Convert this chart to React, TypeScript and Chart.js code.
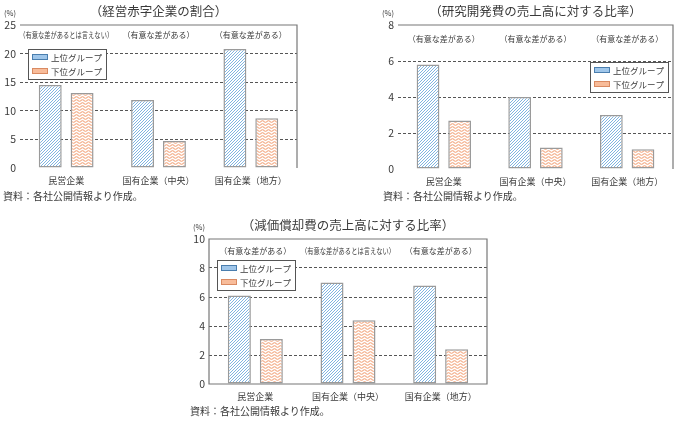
import React, { useEffect, useRef } from 'react';
import Chart from 'chart.js/auto';

const categories = ['民営企業', '国有企業（中央）', '国有企業（地方）'];
const seriesNames = ['上位グループ', '下位グループ'];
const sourceNote = '資料：各社公開情報より作成。';

// 経営赤字企業の割合
const deficitTitle = '（経営赤字企業の割合）';
const deficitUpper = [14.5, 11.9, 20.8];
const deficitLower = [13.1, 4.7, 8.7];
const deficitNotes = ['（有意な差があるとは言えない）', '（有意な差がある）', '（有意な差がある）'];
const deficitTicks = [0, 5, 10, 15, 20, 25];

// 研究開発費の売上高に対する比率
const rdTitle = '（研究開発費の売上高に対する比率）';
const rdUpper = [5.8, 4.0, 3.0];
const rdLower = [2.7, 1.2, 1.1];
const rdNotes = ['（有意な差がある）', '（有意な差がある）', '（有意な差がある）'];
const rdTicks = [0, 2, 4, 6, 8];

// 減価償却費の売上高に対する比率
const depTitle = '（減価償却費の売上高に対する比率）';
const depUpper = [6.1, 7.0, 6.8];
const depLower = [3.1, 4.4, 2.4];
const depNotes = ['（有意な差がある）', '（有意な差があるとは言えない）', '（有意な差がある）'];
const depTicks = [0, 2, 4, 6, 8, 10];

const FONT = '"Noto Sans CJK JP", "Noto Sans", sans-serif';
const TEXT = '#3a3a3a';

function makeHatch() {
    const c = document.createElement('canvas');
    c.width = 3;
    c.height = 3;
    const g = c.getContext('2d')!;
    g.fillStyle = '#fff';
    g.fillRect(0, 0, 3, 3);
    g.strokeStyle = '#80b4e0';
    g.lineWidth = 1;
    g.beginPath();
    g.moveTo(-1, 4); g.lineTo(4, -1);
    g.moveTo(-1, 1); g.lineTo(1, -1);
    g.moveTo(2, 4); g.lineTo(4, 2);
    g.stroke();
    return g.createPattern(c, 'repeat')!;
}

function makeWave() {
    const c = document.createElement('canvas');
    c.width = 6;
    c.height = 3;
    const g = c.getContext('2d')!;
    g.fillStyle = '#fff';
    g.fillRect(0, 0, 6, 3);
    g.strokeStyle = '#f3aa84';
    g.lineWidth = 1.1;
    g.beginPath();
    for (let x = -0.5; x <= 6.5; x += 0.5) {
        const y = 1.5 + 0.8 * Math.sin((x / 6) * Math.PI * 2);
        if (x === -0.5) g.moveTo(x, y);
        else g.lineTo(x, y);
    }
    g.stroke();
    return g.createPattern(c, 'repeat')!;
}

type Area = { l: number; t: number; r: number; b: number };

type PanelProps = {
    left: number;
    top: number;
    width: number;
    height: number;
    area: Area;
    title: string;
    notes: string[];
    upper: number[];
    lower: number[];
    ticks: number[];
    noteOffset: number;
    legendX: number;
    legendY: number;
    legendRight?: boolean;
    fullBox?: boolean;
};

const BarPanel = (p: PanelProps) => {
    const chartRef = useRef<HTMLCanvasElement>(null);

    useEffect(() => {
        const max = p.ticks[p.ticks.length - 1];

        const decor = {
            id: 'decor',
            afterDraw(chart: any) {
                const { ctx, chartArea } = chart;
                const { left: l, top: t, right: r, bottom: b } = chartArea;
                ctx.save();

                // title
                ctx.fillStyle = TEXT;
                ctx.textAlign = 'center';
                ctx.textBaseline = 'middle';
                ctx.font = `12.5px ${FONT}`;
                ctx.fillText(p.title, (l + r) / 2, t - 14);

                // unit
                ctx.textAlign = 'right';
                ctx.font = `7.5px ${FONT}`;
                ctx.fillText('(%)', l - 4, t - 12);

                // significance notes
                ctx.textAlign = 'center';
                ctx.font = `8px ${FONT}`;
                const xs = chart.scales.x;
                p.notes.forEach((n, i) => {
                    ctx.fillText(n, xs.getPixelForValue(i), t + p.noteOffset, 94);
                });

                // frame
                ctx.strokeStyle = '#777';
                ctx.lineWidth = 1.2;
                ctx.beginPath();
                if (p.fullBox) {
                    ctx.rect(l, t, r - l, b - t);
                } else {
                    ctx.moveTo(l, t);
                    ctx.lineTo(r, t);
                    ctx.lineTo(r, b);
                }
                ctx.stroke();

                // legend
                const w = 78;
                const h = 30;
                const bx = p.legendRight ? r - p.legendX - w : l + p.legendX;
                const by = t + p.legendY;
                ctx.fillStyle = '#fff';
                ctx.fillRect(bx, by, w, h);
                ctx.strokeStyle = '#555';
                ctx.lineWidth = 1;
                ctx.strokeRect(bx + 0.5, by + 0.5, w, h);
                const swatches = [
                    { fill: '#9fc6ea', line: '#4a7eae' },
                    { fill: '#f8bc9a', line: '#d98a62' },
                ];
                chart.data.datasets.forEach((ds: any, i: number) => {
                    const ry = by + 8 + i * 14;
                    ctx.fillStyle = swatches[i].fill;
                    ctx.fillRect(bx + 4, ry - 3, 16, 6);
                    ctx.strokeStyle = swatches[i].line;
                    ctx.strokeRect(bx + 4.5, ry - 2.5, 15, 5);
                    ctx.fillStyle = TEXT;
                    ctx.textAlign = 'left';
                    ctx.font = `8.5px ${FONT}`;
                    ctx.fillText(ds.label, bx + 23, ry + 0.5);
                });

                ctx.restore();
            },
        };

        const chartInstance = new Chart(chartRef.current!, {
            type: 'bar',
            data: {
                labels: categories,
                datasets: [
                    {
                        label: seriesNames[0],
                        data: p.upper,
                        backgroundColor: makeHatch(),
                        borderColor: '#9a9a9a',
                        borderWidth: 1.5,
                        borderSkipped: false,
                        categoryPercentage: 0.69,
                        barPercentage: 0.72,
                    },
                    {
                        label: seriesNames[1],
                        data: p.lower,
                        backgroundColor: makeWave(),
                        borderColor: '#9a9a9a',
                        borderWidth: 1.5,
                        borderSkipped: false,
                        categoryPercentage: 0.69,
                        barPercentage: 0.72,
                    },
                ],
            },
            options: {
                responsive: false,
                animation: false,
                layout: {
                    padding: { top: p.area.t, right: p.width - p.area.r, left: 0, bottom: 0 },
                },
                plugins: {
                    legend: { display: false },
                    tooltip: { enabled: false },
                },
                scales: {
                    x: {
                        grid: { display: false, drawTicks: false },
                        border: { display: false },
                        ticks: {
                            color: TEXT,
                            font: { family: FONT, size: 9 },
                            padding: 7,
                            maxRotation: 0,
                            autoSkip: false,
                        },
                        afterFit: (s: any) => {
                            s.height = p.height - p.area.b;
                        },
                    },
                    y: {
                        min: 0,
                        max: max,
                        afterBuildTicks: (s: any) => {
                            s.ticks = p.ticks.map((v) => ({ value: v }));
                        },
                        grid: {
                            drawTicks: false,
                            lineWidth: 1,
                            color: (c: any) =>
                                c.tick && (c.tick.value === 0 || c.tick.value === max)
                                    ? 'rgba(0,0,0,0)'
                                    : '#555',
                        },
                        border: { display: false, dash: [3, 2] },
                        ticks: {
                            color: TEXT,
                            font: { family: FONT, size: 10.5 },
                            padding: 4,
                        },
                        afterFit: (s: any) => {
                            s.width = p.area.l;
                        },
                    },
                },
            },
            plugins: [decor],
        });

        return () => {
            chartInstance.destroy();
        };
    }, []);

    return (
        <canvas
            ref={chartRef}
            width={p.width}
            height={p.height}
            style={{ position: 'absolute', left: p.left, top: p.top, width: p.width, height: p.height }}
        />
    );
};

const Source = ({ x, y }: { x: number; y: number }) => (
    <div
        style={{
            position: 'absolute',
            left: x,
            top: y - 7,
            fontFamily: FONT,
            fontSize: 10,
            lineHeight: '14px',
            color: TEXT,
            whiteSpace: 'nowrap',
        }}
    >
        {sourceNote}
    </div>
);

const App = () => {
    return (
        <div style={{ position: 'absolute', left: 0, top: 0, width: 680, height: 421, background: '#fff', overflow: 'hidden' }}>
            <BarPanel
                left={0} top={0} width={340} height={190}
                area={{ l: 20, t: 25, r: 297, b: 168 }}
                title={deficitTitle} notes={deficitNotes}
                upper={deficitUpper} lower={deficitLower} ticks={deficitTicks}
                noteOffset={10} legendX={8} legendY={24}
            />
            <BarPanel
                left={340} top={0} width={340} height={190}
                area={{ l: 58, t: 25, r: 333, b: 169 }}
                title={rdTitle} notes={rdNotes}
                upper={rdUpper} lower={rdLower} ticks={rdTicks}
                noteOffset={14} legendX={5} legendY={37} legendRight
            />
            <BarPanel
                left={180} top={210} width={340} height={195}
                area={{ l: 29, t: 29, r: 307, b: 174 }}
                title={depTitle} notes={depNotes}
                upper={depUpper} lower={depLower} ticks={depTicks}
                noteOffset={12} legendX={8} legendY={21} fullBox
            />
            <Source x={3} y={196} />
            <Source x={383} y={196} />
            <Source x={190} y={411} />
        </div>
    );
};

export default App;
